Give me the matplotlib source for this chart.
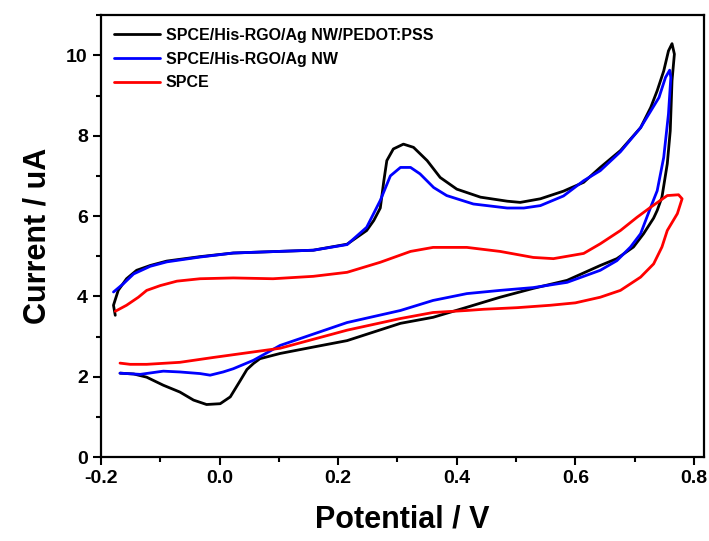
import numpy as np
import matplotlib
matplotlib.use('Agg')
import matplotlib.pyplot as plt
from matplotlib.ticker import MultipleLocator

plt.rcParams['font.family'] = ['Liberation Sans', 'DejaVu Sans']
plt.rcParams['font.weight'] = 'bold'

# SPCE/His-RGO/Ag NW/PEDOT:PSS (upper branch left->right, then lower branch right->left)
pedot_x = [-0.176, -0.179, -0.171, -0.157, -0.14, -0.117, -0.089, -0.033, 0.023, 0.08, 0.158,
           0.215, 0.248, 0.26, 0.271, 0.277, 0.282, 0.293, 0.31, 0.327, 0.35, 0.372, 0.4,
           0.44, 0.485, 0.507, 0.541, 0.58, 0.614, 0.642, 0.676, 0.71, 0.727, 0.738, 0.749,
           0.757, 0.763, 0.767, 0.763, 0.76, 0.755, 0.746, 0.738, 0.732, 0.715, 0.698, 0.67,
           0.642, 0.586, 0.529, 0.473, 0.417, 0.36, 0.305, 0.215, 0.158, 0.102, 0.068, 0.057,
           0.046, 0.035, 0.018, 0.001, -0.022, -0.044, -0.067, -0.095, -0.123, -0.145, -0.168]
pedot_y = [3.53, 3.78, 4.15, 4.44, 4.65, 4.77, 4.88, 4.99, 5.08, 5.11, 5.15,
           5.3, 5.64, 5.89, 6.2, 6.88, 7.38, 7.67, 7.79, 7.71, 7.38, 6.96, 6.67,
           6.47, 6.37, 6.34, 6.43, 6.62, 6.84, 7.21, 7.63, 8.2, 8.7, 9.12, 9.61,
           10.11, 10.29, 10.03, 9.37, 8.12, 7.3, 6.47, 6.14, 5.95, 5.56, 5.23, 4.94,
           4.77, 4.4, 4.2, 3.98, 3.73, 3.48, 3.33, 2.9, 2.74, 2.58, 2.45, 2.33,
           2.18, 1.91, 1.5, 1.33, 1.31, 1.42, 1.62, 1.79, 1.99, 2.07, 2.09]

# SPCE/His-RGO/Ag NW
agnw_x = [-0.179, -0.162, -0.145, -0.117, -0.089, -0.033, 0.023, 0.08, 0.158, 0.215, 0.248,
          0.271, 0.288, 0.305, 0.322, 0.338, 0.361, 0.383, 0.428, 0.485, 0.513, 0.541, 0.58,
          0.614, 0.642, 0.676, 0.71, 0.741, 0.752, 0.759, 0.761, 0.757, 0.749, 0.738, 0.727,
          0.71, 0.693, 0.67, 0.642, 0.586, 0.529, 0.473, 0.417, 0.36, 0.305, 0.215, 0.102,
          0.057, 0.023, 0.006, -0.016, -0.033, -0.067, -0.095, -0.134, -0.168]
agnw_y = [4.11, 4.32, 4.56, 4.75, 4.86, 4.98, 5.08, 5.11, 5.15, 5.29, 5.72,
          6.39, 7.0, 7.21, 7.21, 7.05, 6.71, 6.51, 6.3, 6.2, 6.2, 6.26, 6.5,
          6.88, 7.13, 7.6, 8.2, 8.95, 9.45, 9.63, 9.45, 8.54, 7.46, 6.63, 6.22,
          5.56, 5.23, 4.89, 4.65, 4.35, 4.22, 4.15, 4.07, 3.9, 3.65, 3.35, 2.78,
          2.41, 2.2, 2.12, 2.04, 2.08, 2.12, 2.14, 2.06, 2.09]

# SPCE
spce_x = [-0.176, -0.157, -0.137, -0.123, -0.1, -0.072, -0.033, 0.023, 0.09, 0.158, 0.215,
          0.271, 0.322, 0.36, 0.417, 0.473, 0.529, 0.563, 0.614, 0.642, 0.676, 0.704, 0.727,
          0.755, 0.774, 0.78, 0.772, 0.755, 0.746, 0.732, 0.71, 0.676, 0.642, 0.6, 0.558,
          0.502, 0.445, 0.417, 0.36, 0.305, 0.215, 0.102, -0.011, -0.067, -0.123, -0.151, -0.168]
spce_y = [3.63, 3.78, 3.98, 4.15, 4.27, 4.38, 4.44, 4.46, 4.44, 4.5, 4.6,
          4.85, 5.12, 5.22, 5.22, 5.12, 4.97, 4.94, 5.07, 5.31, 5.64, 5.97, 6.22,
          6.51, 6.53, 6.43, 6.06, 5.64, 5.23, 4.81, 4.48, 4.15, 3.98, 3.84, 3.78,
          3.72, 3.68, 3.65, 3.6, 3.45, 3.16, 2.71, 2.48, 2.36, 2.31, 2.31, 2.34]

labels = ['SPCE/His-RGO/Ag NW/PEDOT:PSS', 'SPCE/His-RGO/Ag NW', 'SPCE']
colors = ['black', '#0000ff', '#ff0000']

fig = plt.figure(figsize=(7.09, 5.41), dpi=100)
ax = fig.add_axes([0.1425, 0.155, 0.8505, 0.817])

for xs, ys, lab, c in zip([pedot_x, agnw_x, spce_x], [pedot_y, agnw_y, spce_y], labels, colors):
    ax.plot(xs, ys, color=c, linewidth=2.0, label=lab,
            solid_joinstyle='round', solid_capstyle='round')

ax.set_xlim(-0.2, 0.817)
ax.set_ylim(0, 11.0)
ax.xaxis.set_minor_locator(MultipleLocator(0.1))
ax.yaxis.set_major_locator(MultipleLocator(2))
ax.yaxis.set_minor_locator(MultipleLocator(1))
ax.set_xticks([-0.2, 0.0, 0.2, 0.4, 0.6, 0.8])
ax.set_xticklabels(['-0.2', '0.0', '0.2', '0.4', '0.6', '0.8'])

ax.tick_params(which='major', direction='out', length=6, width=1.5, labelsize=14)
ax.tick_params(which='minor', direction='out', length=3.5, width=1.5)
for lbl in ax.get_xticklabels() + ax.get_yticklabels():
    lbl.set_fontweight('bold')
for sp in ax.spines.values():
    sp.set_linewidth(1.6)

ax.set_xlabel('Potential / V', fontsize=22, fontweight='bold', labelpad=12)
ax.set_ylabel('Current / uA', fontsize=22, fontweight='bold', labelpad=10)

leg = ax.legend(loc='upper left', frameon=False, fontsize=11.5, handlelength=2.9,
                handletextpad=0.35, labelspacing=0.55, borderaxespad=0.4)
for t in leg.get_texts():
    t.set_fontweight('bold')

fig.savefig('out.png', dpi=100)
